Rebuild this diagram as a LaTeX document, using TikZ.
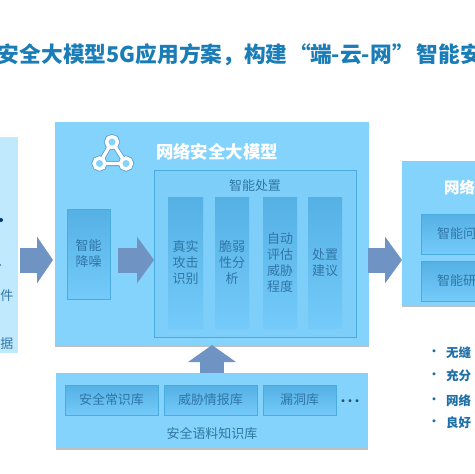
\documentclass[tikz,border=0pt]{standalone}
\usepackage{fontspec}
\setmainfont{Noto Sans CJK SC}
\usetikzlibrary{arrows.meta,shadows}
\definecolor{panelc}{HTML}{84D3FC}
\definecolor{celltop}{HTML}{55B0E4}
\definecolor{cellbot}{HTML}{74CBFA}
\definecolor{edgec}{HTML}{48ACDF}
\definecolor{textc}{HTML}{2F76A6}
\definecolor{titlec}{HTML}{1B7DB8}
\definecolor{arrowc}{HTML}{6F94C3}
\definecolor{bulletc}{HTML}{2070A8}
\tikzset{
  x=1pt,y=-1pt,
  every node/.style={inner sep=0pt,outer sep=0pt},
  panel/.style={fill=panelc,drop shadow={shadow xshift=0pt,shadow yshift=-1.6pt,opacity=.45,fill=black!55},anchor=north west},
  cell/.style={top color=celltop,bottom color=cellbot,draw=edgec,line width=.7pt,anchor=north west,
     align=center,text=textc,font=\fontsize{13}{16}\selectfont},
  inner/.style={fill=panelc!85!celltop,draw=edgec,line width=.7pt,anchor=north west},
  lbl/.style={text=textc,font=\fontsize{13}{16}\selectfont},
  bigtitle/.style={text=white,font=\bfseries\fontsize{17.4}{20}\selectfont},
  blockarrow/.style={arrowc,line width=#1},
  bul/.style={text=bulletc,font=\bfseries\fontsize{12.5}{15}\selectfont,anchor=west},
  dotb/.style={text=bulletc,font=\bfseries\fontsize{11}{15}\selectfont},
  bt/.style={-{Triangle[length=#1,width=46pt]}},
}
\begin{document}
\begin{tikzpicture}
\useasboundingbox (0,0) rectangle (475,474);
\clip (0,0) rectangle (475,474);
\fill[white] (0,0) rectangle (475,474);

% title
\node[anchor=west,text=titlec,font=\bfseries\fontsize{21.7}{24}\selectfont] (title) at (-2,55)
  {安全大模型5G应用方案^^^^ff0c构建\hspace{2pt}“\hspace{-1pt}端-云-网\hspace{1pt}”\hspace{2pt}智能安};

% left panel
\node[anchor=north west,minimum width=18pt,minimum height=216pt,fill=panelc!50!white] (leftp) at (0,137) {};
\fill[teal!60!blue!70!black] (1,220) circle (2);
\fill[textc] (0,265) circle (1.2);
\node[lbl] (ljian) at (7,296) {件};
\node[lbl] (lju) at (7,344) {据};

% main panel
\node[panel,minimum width=314pt,minimum height=223pt] (mainp) at (55,122) {};
\node[bigtitle] (maint) at (217,152) {网络安全大模型};

% icon
\coordinate (ia) at (112,142);
\coordinate (ib) at (99.5,163.5);
\coordinate (ic) at (126,163.5);
\draw[textc!55!panelc,line width=5pt,line join=round] (ia) -- (ib) -- (ic) -- cycle;
\foreach \c in {ia,ib,ic}{
  \draw[textc!55!panelc,line width=5pt] (\c) circle (5.5);
}
\draw[white,line width=3.4pt,line join=round] (ia) -- (ib) -- (ic) -- cycle;
\foreach \c in {ia,ib,ic}{
  \draw[white,fill=panelc,line width=3.4pt] (\c) circle (5.5);
}

% denoise
\node[cell,minimum width=43pt,minimum height=90pt] (denoise) at (67,209) {智能\\降噪};

% inner disposal box
\node[inner,minimum width=202pt,minimum height=167pt] (innerb) at (154,170) {};
\node[lbl] (innert) at (255,186) {智能处置};
\node[cell,minimum width=35pt,minimum height=131pt,draw=none] (c1) at (168,197) {真实\\攻击\\识别};
\node[cell,minimum width=34pt,minimum height=131pt,draw=none] (c2) at (215,197) {脆弱\\性分\\析};
\node[cell,minimum width=34pt,minimum height=131pt,draw=none] (c3) at (263,197) {自动\\评估\\威胁\\程度};
\node[cell,minimum width=34pt,minimum height=131pt,draw=none] (c4) at (308,197) {处置\\建议};

% right panel
\node[panel,minimum width=80pt,minimum height=144pt] (rightp) at (402,161) {};
\node[bigtitle,anchor=west,font=\bfseries\fontsize{15.5}{18}\selectfont] (rightt) at (444,187) {网络};
\node[cell,minimum width=60pt,minimum height=40pt] (r1) at (421,214) {};
\node[cell,minimum width=60pt,minimum height=40pt] (r2) at (421,261) {};
\node[lbl,anchor=west] (r1t) at (437,234) {智能问};
\node[lbl,anchor=west] (r2t) at (437,281) {智能研};

% knowledge base
\node[panel,minimum width=312pt,minimum height=75pt] (kb) at (56,373) {};
\node[cell,minimum width=93pt,minimum height=30pt] (k1) at (65,385) {安全常识库};
\node[cell,minimum width=93pt,minimum height=30pt] (k2) at (164,385) {威胁情报库};
\node[cell,minimum width=73pt,minimum height=30pt] (k3) at (263,385) {漏洞库};
\node[text=textc!70!black,font=\fontsize{14}{16}\selectfont] (kdots) at (350,403) {·\hspace{-7pt}·\hspace{-7pt}·};
\node[lbl] (kbt) at (212,434) {安全语料知识库};

% block arrows
\coordinate (ay) at (0,260);
\draw[blockarrow=25pt,bt=16pt] ([xshift=2pt]leftp.east |- ay) -- ([xshift=-2pt]mainp.west |- ay);
\draw[blockarrow=25pt,bt=17pt] ([xshift=8pt]denoise.east |- ay) -- (innerb.west |- ay);
\draw[blockarrow=25pt,bt=17pt] ([xshift=-1pt]mainp.east |- ay) -- (rightp.west |- ay);
\coordinate (ax) at (212,0);
\draw[blockarrow=24pt,-{Triangle[length=17pt,width=47pt]}] (kb.north -| ax) -- (mainp.south -| ax);

% bullets
\foreach \y/\t [count=\i] in {353/无缝,376/充分,401/网络,423/良好}{
  \node[dotb] (d\i) at (434,\y) {·};
  \node[bul] (b\i) at (446,\y) {\t};
}
\end{tikzpicture}
\end{document}
